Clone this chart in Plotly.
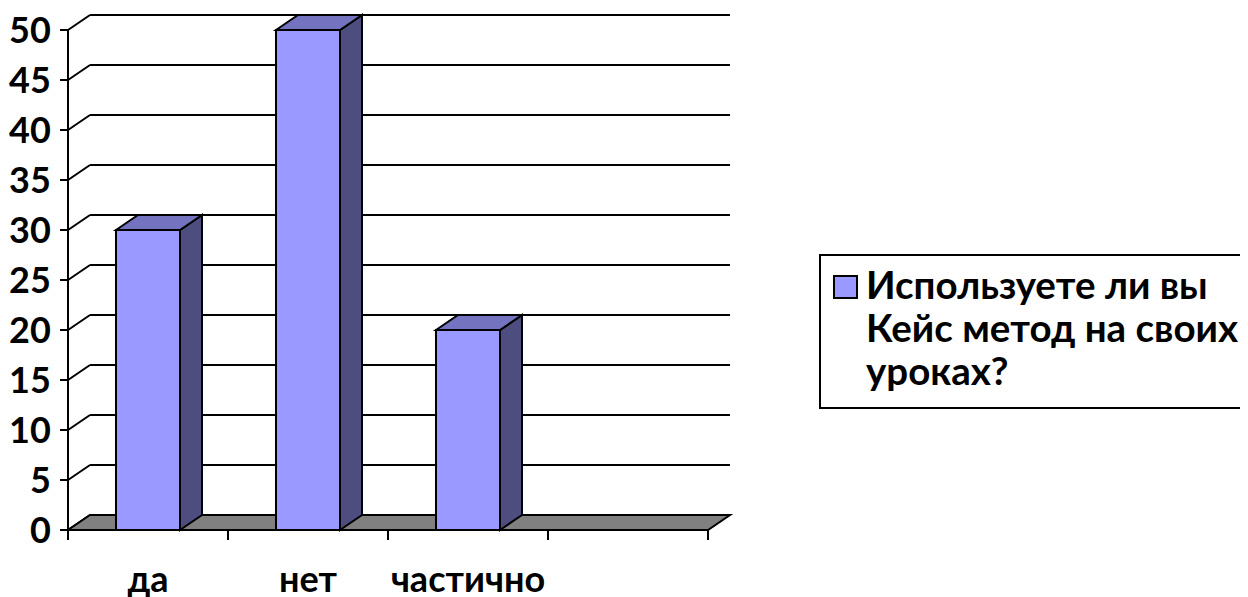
import plotly.graph_objects as go

# ---------------- data ----------------
categories = ["да", "нет", "частично", ""]
values = [30, 50, 20, None]
y_ticks = [0, 5, 10, 15, 20, 25, 30, 35, 40, 45, 50]
legend_lines = ["Используете ли вы", "Кейс метод на своих", "уроках?"]
series_name = " ".join(legend_lines)

# ---------------- style ----------------
OFF = 8                      # default body margin of the html page
W, H = 1248 - OFF, 597 - OFF
FONT = "Lato, 'Open Sans', 'DejaVu Sans', sans-serif"
FS = 36
FS_LEG = 38.5
FRONT = "#9999FF"
TOP = "#7373BF"
SIDE = "#4D4D80"
FLOOR = "#808080"
LW = 2

bar_w = 0.4
dx = 0.1375   # 3-D depth offset (x units)
dy = 1.5      # 3-D depth offset (y units)

x_lo, x_hi = -0.5, len(categories) - 0.5
xr = [-0.65, 3.75]
yr = [-2.0, 51.9]
px_per_x, px_per_y = 160, 10
axis_left_px, axis_bottom_px = 68 - OFF, 530 - OFF

plot_w = (xr[1] - xr[0]) * px_per_x
plot_h = (yr[1] - yr[0]) * px_per_y
m_l = axis_left_px - (x_lo - xr[0]) * px_per_x
m_r = W - m_l - plot_w
m_b = H - (axis_bottom_px + (0 - yr[0]) * px_per_y)
m_t = H - m_b - plot_h


def paper_x(px):
    return (px - OFF - m_l) / plot_w


def paper_y(py):
    return (H - m_b - (py - OFF)) / plot_h


idx = list(range(len(categories)))
y_top = y_ticks[-1]

fig = go.Figure()
fig.add_trace(go.Bar(
    x=idx, y=values, width=bar_w, name=series_name,
    marker=dict(color=FRONT, line=dict(color="black", width=LW)),
    showlegend=False, hoverinfo="x+y",
))

shapes = []
# back wall grid lines + little diagonals on the side wall
for v in y_ticks:
    shapes.append(dict(type="line", layer="below", xref="x", yref="y",
                       x0=x_lo, y0=v, x1=x_lo + dx, y1=v + dy,
                       line=dict(color="black", width=LW)))
    shapes.append(dict(type="line", layer="below", xref="x", yref="y",
                       x0=x_lo + dx, y0=v + dy, x1=x_hi + dx, y1=v + dy,
                       line=dict(color="black", width=LW)))
# floor
shapes.append(dict(type="path", layer="below", xref="x", yref="y",
                   path=f"M {x_lo},0 L {x_hi},0 L {x_hi + dx},{dy} L {x_lo + dx},{dy} Z",
                   fillcolor=FLOOR, line=dict(color="black", width=LW)))
# 3-D faces of bars
for i, v in zip(idx, values):
    if v is None:
        continue
    xl, xrr = i - bar_w / 2, i + bar_w / 2
    shapes.append(dict(type="path", layer="above", xref="x", yref="y",
                       path=f"M {xrr},0 L {xrr + dx},{dy} L {xrr + dx},{v + dy} L {xrr},{v} Z",
                       fillcolor=SIDE, line=dict(color="black", width=LW)))
    shapes.append(dict(type="path", layer="above", xref="x", yref="y",
                       path=f"M {xl},{v} L {xl + dx},{v + dy} L {xrr + dx},{v + dy} L {xrr},{v} Z",
                       fillcolor=TOP, line=dict(color="black", width=LW)))
# axis lines
shapes.append(dict(type="line", layer="above", xref="x", yref="y",
                   x0=x_lo, y0=0, x1=x_lo, y1=y_top, line=dict(color="black", width=LW)))
shapes.append(dict(type="line", layer="above", xref="x", yref="y",
                   x0=x_lo, y0=0, x1=x_hi, y1=0, line=dict(color="black", width=LW)))
# x tick marks at category boundaries
for k in range(len(categories) + 1):
    xb = x_lo + k
    shapes.append(dict(type="line", layer="above", xref="x", yref="y",
                       x0=xb, y0=0, x1=xb, y1=-1, line=dict(color="black", width=LW)))

# legend (drawn manually), positions in page pixels
leg_box = (820, 255, 1262, 408)
sw = (834, 276, 857, 298)
shapes.append(dict(type="rect", xref="paper", yref="paper",
                   x0=paper_x(leg_box[0]), x1=paper_x(leg_box[2]),
                   y0=paper_y(leg_box[3]), y1=paper_y(leg_box[1]),
                   line=dict(color="black", width=LW), fillcolor="white"))
shapes.append(dict(type="rect", xref="paper", yref="paper",
                   x0=paper_x(sw[0]), x1=paper_x(sw[2]),
                   y0=paper_y(sw[3]), y1=paper_y(sw[1]),
                   line=dict(color="black", width=LW), fillcolor=FRONT))
annotations = []
for j, line in enumerate(legend_lines):
    annotations.append(dict(xref="paper", yref="paper", x=paper_x(864), y=paper_y(284 + 43 * j),
                            xanchor="left", yanchor="middle", text=line, showarrow=False,
                            font=dict(family=FONT, size=FS_LEG, color="black", weight="bold")))

fig.update_layout(
    width=W, height=H,
    margin=dict(l=m_l, r=m_r, t=m_t, b=m_b, pad=0, autoexpand=False),
    paper_bgcolor="white", plot_bgcolor="rgba(0,0,0,0)",
    shapes=shapes, annotations=annotations,
    showlegend=False,
    xaxis=dict(range=xr, tickvals=idx, ticktext=categories, ticks="",
               showline=False, showgrid=False, zeroline=False, automargin=False,
               ticklabelstandoff=5, ticklabeloverflow="allow",
               tickfont=dict(family=FONT, size=FS, color="black", weight="bold")),
    yaxis=dict(range=yr, tickvals=y_ticks, ticks="outside", ticklen=8, tickwidth=LW,
               tickcolor="black", anchor="free", position=(x_lo - xr[0]) / (xr[1] - xr[0]),
               showline=False, showgrid=False, zeroline=False, ticklabelstandoff=2,
               automargin=False, ticklabeloverflow="allow",
               tickfont=dict(family=FONT, size=FS, color="black", weight="bold")),
)

fig.write_html("out.html")
